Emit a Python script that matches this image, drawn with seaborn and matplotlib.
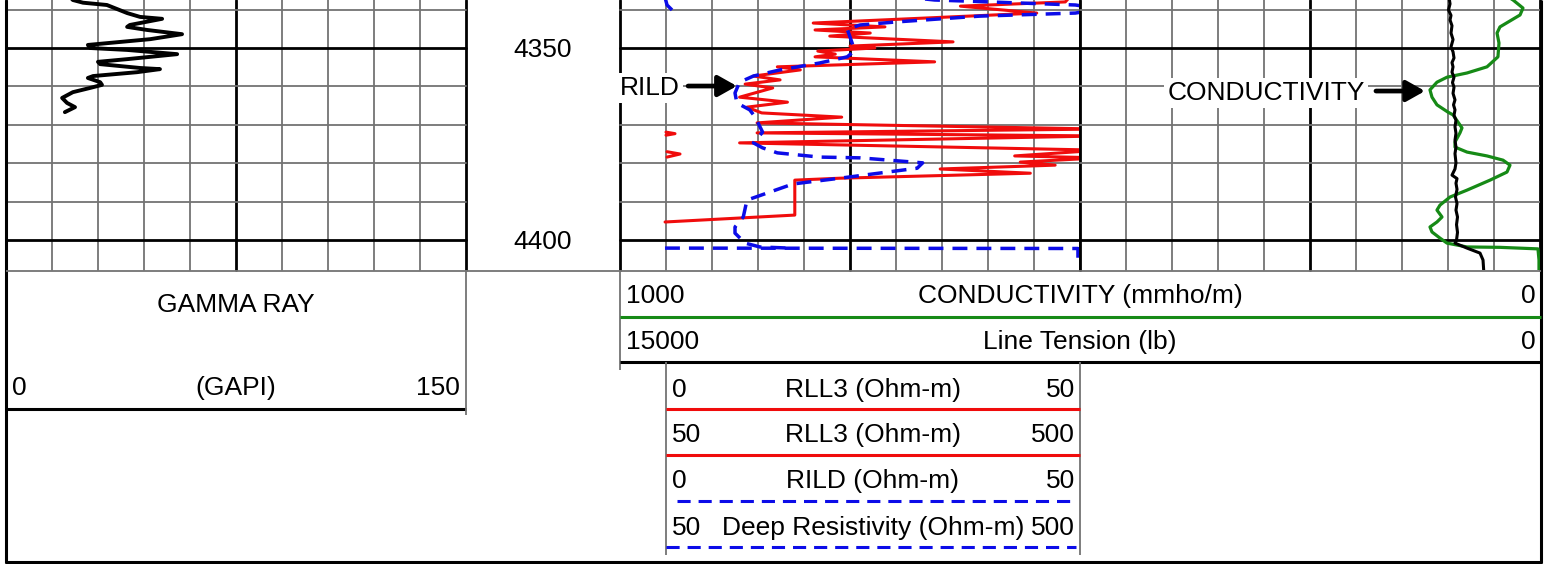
import numpy as np
import matplotlib.pyplot as plt
import seaborn as sns

sns.set_theme(style="white")
plt.rcParams["font.family"] = ["Liberation Sans", "DejaVu Sans"]
plt.rcParams["text.color"] = "black"

# --- depth window (ft) ---
depth_top, depth_bot = 4337.5, 4407.8
depth_labels = [4350, 4400]

# --- gamma ray (GAPI, 0-150) ---
gr_depth = [4336.7, 4337.5, 4338.2, 4338.8, 4340.9, 4341.9, 4342.4, 4344.0, 4344.5, 4345.3,
            4346.4, 4347.7, 4349.2, 4350.0, 4350.5, 4351.6, 4352.9, 4353.6, 4354.2, 4355.2,
            4355.5, 4356.3, 4357.3, 4357.8, 4358.9, 4359.6, 4360.4, 4361.5, 4363.0, 4364.3,
            4365.4, 4366.7]
gr_api = [20.9, 21.8, 25.1, 32.9, 39.5, 43.7, 50.9, 40.4, 39.5, 46.0,
          57.4, 47.0, 26.7, 27.4, 39.5, 55.8, 39.5, 30.0, 30.7, 43.7,
          50.2, 42.7, 28.4, 26.7, 30.7, 31.3, 27.4, 21.8, 18.3, 19.9,
          22.5, 19.2]

# --- RLL3 (Ohm-m), 0-50 scale ---
rll3_depth = [4336.7, 4338.0, 4339.1, 4340.9, 4343.5, 4344.5, 4345.3, 4346.1, 4346.9, 4348.4,
              4349.5, 4350.0, 4350.8, 4351.6, 4352.3, 4353.6, 4354.9, 4355.7, 4357.3, 4358.3,
              4359.4, 4360.4, 4362.8, 4364.1, 4365.4, 4366.9, 4368.0, 4369.5, 4371.1, 4372.1,
              4372.9, 4374.7, 4376.6, 4378.1, 4378.6, 4379.7, 4380.5, 4381.5, 4382.6, 4383.9,
              4384.4, 4393.5, 4395.3]
rll3_ohm = [48.9, 48.4, 37.0, 45.3, 21.0, 28.8, 21.2, 27.2, 22.8, 36.2,
            25.0, 27.7, 21.5, 23.4, 21.2, 34.2, 17.1, 19.6, 14.5, 17.4,
            13.6, 16.6, 13.0, 18.2, 13.8, 15.4, 24.1, 14.9, 52.2, 14.9,
            52.2, 13.0, 52.2, 42.9, 52.2, 43.5, 47.3, 34.8, 44.6, 23.9,
            19.0, 19.0, 4.9]
# RLL3 backup pieces, 50-500 scale
rll3_bk_a_depth = [4371.9, 4372.3, 4372.7]
rll3_bk_a_ohm = [95.0, 103.8, 95.0]
rll3_bk_b_depth = [4377.0, 4377.6, 4378.4]
rll3_bk_b_ohm = [96.0, 108.7, 96.0]

# --- RILD (Ohm-m), 0-50 scale ---
rild_depth = [4336.7, 4337.5, 4338.0, 4338.8, 4339.8, 4340.9, 4341.7, 4343.2, 4344.0, 4345.1,
              4347.1, 4349.2, 4351.3, 4352.3, 4353.9, 4355.7, 4357.3, 4358.9, 4361.7, 4364.3,
              4366.1, 4368.0, 4371.9, 4374.7, 4376.0, 4377.3, 4378.4, 4378.6, 4379.9, 4381.3,
              4383.9, 4385.4, 4387.5, 4389.6, 4394.0, 4396.6, 4398.2, 4400.8, 4401.8, 4402.1]
rild_ohm = [31.0, 34.2, 40.2, 49.5, 52.2, 49.5, 39.1, 30.1, 26.1, 24.7,
            25.0, 25.3, 25.2, 24.7, 21.7, 17.4, 14.5, 13.0, 12.5, 12.7,
            14.1, 14.7, 15.5, 14.5, 15.5, 17.1, 21.7, 26.1, 32.9, 32.3,
            23.9, 18.8, 16.3, 13.8, 13.4, 12.5, 12.5, 13.6, 15.2, 18.5]
# deep resistivity backup, 50-500 scale
rild_bk_top_depth = [4337.3, 4338.8, 4340.1]
rild_bk_top_ohm = [94.5, 96.0, 100.9]
rild_bk_bot_depth = [4402.1, 4402.2, 4405.7]
rild_bk_bot_ohm = [94.0, 498.0, 498.0]

# --- conductivity (mmho/m), 1000-0 ---
cond_depth = [4336.7, 4337.5, 4339.6, 4341.4, 4344.5, 4346.1, 4348.7, 4352.3, 4354.9, 4356.5,
              4357.6, 4358.9, 4360.9, 4362.8, 4364.8, 4366.7, 4367.4, 4369.3, 4370.8, 4372.1,
              4374.5, 4375.8, 4377.1, 4378.1, 4379.2, 4380.5, 4382.3, 4384.4, 4387.0, 4388.8,
              4390.9, 4392.2, 4394.0, 4395.3, 4396.6, 4397.9, 4399.5, 4400.8, 4401.8, 4401.9,
              4402.3, 4405.2, 4408.5]
cond_mmho = [34.8, 29.3, 18.5, 21.7, 43.5, 46.7, 44.6, 45.7, 57.6, 79.3,
             101.1, 112.0, 119.6, 117.4, 112.0, 100.0, 94.6, 89.1, 84.8, 87.0,
             92.4, 92.4, 79.3, 57.6, 40.2, 32.6, 35.9, 54.3, 79.3, 97.8,
             108.7, 112.0, 106.5, 112.0, 119.6, 117.4, 108.7, 101.1, 79.3, 43.5,
             2.2, 1.1, 1.1]

# --- line tension (lb), 15000-0 ---
tens_depth = [4336.7, 4338.5, 4340.1, 4341.5, 4342.7, 4344.2, 4346.1, 4347.8, 4349.7, 4351.0,
              4352.6, 4353.8, 4354.9, 4356.3, 4357.6, 4359.0, 4360.2, 4361.8, 4363.5, 4364.8,
              4366.1, 4367.5, 4368.8, 4370.5, 4372.2, 4374.0, 4375.8, 4377.5, 4379.9, 4381.5,
              4383.1, 4384.0, 4385.2, 4386.8, 4388.8, 4390.5, 4392.2, 4394.0, 4396.0, 4398.0,
              4400.0, 4400.8, 4402.1, 4403.4, 4405.2, 4409.1]
tens_lb = [1484, 1467, 1492, 1451, 1467, 1435, 1451, 1418, 1451, 1418,
           1402, 1435, 1418, 1435, 1402, 1427, 1402, 1418, 1386, 1410,
           1386, 1402, 1370, 1386, 1370, 1386, 1370, 1386, 1370, 1386,
           1435, 1353, 1370, 1353, 1378, 1353, 1370, 1345, 1361, 1345,
           1361, 1386, 1190, 978, 929, 913]

# header scale rows (left value, title, right value)
gr_scale = ("0", "(GAPI)", "150")
cond_scale = ("1000", "CONDUCTIVITY (mmho/m)", "0")
tens_scale = ("15000", "Line Tension (lb)", "0")
res_rows = [("0", "RLL3 (Ohm-m)", "50"),
            ("50", "RLL3 (Ohm-m)", "500"),
            ("0", "RILD (Ohm-m)", "50"),
            ("50", "Deep Resistivity (Ohm-m)", "500")]

W, H = 1548, 564
FS = 19
RED, BLUE, GREEN = "#f00c0c", "#0c0ce8", "#168a16"
GRAY = "#737373"
DASH = (0, (4.3, 2.6))
ARROW = dict(arrowstyle="-|>,head_length=0.8,head_width=0.45", color="black",
             lw=3.4, shrinkA=0, shrinkB=0, mutation_scale=14)

fig = plt.figure(figsize=(W / 100, H / 100), dpi=100)


def box(x0, x1, y0=0, y1=270):
    return fig.add_axes([x0 / W, 1 - y1 / H, (x1 - x0) / W, (y1 - y0) / H])


def clean(ax):
    ax.set(xlabel="", ylabel="", xticks=[], yticks=[])
    for s in ax.spines.values():
        s.set_visible(False)


def grid(ax, lo, hi):
    for i, xv in enumerate(np.linspace(lo, hi, 11)):
        heavy = i % 5 == 0
        ax.axvline(xv, color="black" if heavy else GRAY, lw=2.0 if heavy else 1.3,
                   clip_on=False, zorder=1)
    for d in range(4340, 4410, 10):
        heavy = d % 50 == 0
        ax.axhline(d, color="black" if heavy else GRAY, lw=2.0 if heavy else 1.3,
                   clip_on=False, zorder=1)


def curve(ax, x, y, **kw):
    sns.lineplot(x=np.array(x, float), y=np.array(y, float), sort=False,
                 estimator=None, ax=ax, zorder=3, **kw)


# depth column
ax_d = box(466, 620)
ax_d.set_xlim(0, 1)
ax_d.set_ylim(depth_bot, depth_top)
clean(ax_d)
for d in depth_labels:
    ax_d.annotate(str(d), xy=(0.5, d), xytext=(0, -6.6), textcoords="offset points",
                  ha="center", va="baseline", fontsize=FS)

# track 1: gamma ray
ax1 = box(6, 466)
grid(ax1, 0, 150)
curve(ax1, gr_api, gr_depth, color="black", lw=2.8)
ax1.set_xlim(0, 150)
ax1.set_ylim(depth_bot, depth_top)
clean(ax1)

# track 2: resistivity
ax2 = box(620, 1080)
grid(ax2, 0, 50)
curve(ax2, rll3_ohm, rll3_depth, color=RED, lw=2.2)
curve(ax2, rild_ohm, rild_depth, color=BLUE, lw=2.5, linestyle=DASH)
ax2.set_xlim(0, 50)
ax2.set_ylim(depth_bot, depth_top)
ax2b = ax2.twiny()
curve(ax2b, rll3_bk_a_ohm, rll3_bk_a_depth, color=RED, lw=2.2)
curve(ax2b, rll3_bk_b_ohm, rll3_bk_b_depth, color=RED, lw=2.2)
curve(ax2b, rild_bk_top_ohm, rild_bk_top_depth, color=BLUE, lw=2.5, linestyle=DASH)
curve(ax2b, rild_bk_bot_ohm, rild_bk_bot_depth, color=BLUE, lw=2.5, linestyle=DASH)
ax2b.set_xlim(50, 500)
ax2.set_ylim(depth_bot, depth_top)
clean(ax2)
clean(ax2b)
ax2.annotate("RILD", xy=(0, 4359.9), xytext=(0, -6.6), textcoords="offset points",
             ha="left", va="baseline", fontsize=FS, zorder=6, annotation_clip=False,
             bbox=dict(fc="white", ec="none", pad=2))
ax2.annotate("", xy=(12.7, 4359.9), xytext=(7.4, 4359.9), zorder=6, arrowprops=ARROW)

# track 3 grid
ax3 = box(1080, 1540)
grid(ax3, 0, 1)
ax3.set_xlim(0, 1)
ax3.set_ylim(depth_bot, depth_top)
clean(ax3)

# conductivity / tension overlay across tracks 2-3
axc = box(620, 1540)
axc.set_facecolor("none")
curve(axc, cond_mmho, cond_depth, color=GREEN, lw=2.3)
axc.set_xlim(1000, 0)
axc.set_ylim(depth_bot, depth_top)
axt = axc.twiny()
curve(axt, tens_lb, tens_depth, color="black", lw=2.2)
axt.set_xlim(15000, 0)
axc.set_ylim(depth_bot, depth_top)
clean(axc)
clean(axt)
axc.annotate("CONDUCTIVITY", xy=(297.8, 4361.2), xytext=(0, -6.6), textcoords="offset points",
             ha="center", va="baseline", fontsize=FS, zorder=6,
             bbox=dict(fc="white", ec="none", pad=2))
axc.annotate("", xy=(125.0, 4361.2), xytext=(178.3, 4361.2), zorder=6, arrowprops=ARROW)

# header / frame in pixel units
fr = fig.add_axes([0, 0, 1, 1])
fr.set_xlim(0, W)
fr.set_ylim(H, 0)
fr.axis("off")
fr.patch.set_alpha(0)


def hline(y, x0, x1, **kw):
    fr.plot([x0, x1], [y, y], solid_capstyle="butt", **kw)


def vline(x, y0, y1, **kw):
    fr.plot([x, x], [y0, y1], solid_capstyle="butt", **kw)


def label(x, y, s, ha="center"):
    fr.text(x, y + 9, s, ha=ha, va="baseline", fontsize=FS, color="black")


vline(5.5, 0, 562.5, color="black", lw=2.2)
vline(1541, 0, 562.5, color="black", lw=2.2)
hline(562, 4.5, 1542, color="black", lw=2.2)
hline(270.5, 5.5, 1541, color=GRAY, lw=1.3)
hline(408.5, 5.5, 466, color="black", lw=2.2)
vline(466, 270, 415, color=GRAY, lw=1.3)
vline(620, 270, 370, color=GRAY, lw=1.3)
hline(317, 620, 1541, color=GREEN, lw=2.2)
hline(362, 620, 1541, color="black", lw=2.2)
vline(666, 362, 555, color=GRAY, lw=1.3)
vline(1080, 362, 555, color=GRAY, lw=1.3)
hline(408.5, 666, 1080, color=RED, lw=2.2)
hline(455, 666, 1080, color=RED, lw=2.2)
hline(501, 677, 1076, color=BLUE, lw=2.2, linestyle=DASH)
hline(547, 666, 1076, color=BLUE, lw=2.2, linestyle=DASH)

label(236, 303, "GAMMA RAY")
label(12, 386, gr_scale[0], "left")
label(236, 386, gr_scale[1])
label(460, 386, gr_scale[2], "right")
for y, (lo, name, hi) in zip([294, 340], [cond_scale, tens_scale]):
    label(626, y, lo, "left")
    label(1080, y, name)
    label(1536, y, hi, "right")
for y, (lo, name, hi) in zip([388, 433, 479, 526], res_rows):
    label(672, y, lo, "left")
    label(873, y, name)
    label(1075, y, hi, "right")

fig.savefig("out.png", dpi=100)
